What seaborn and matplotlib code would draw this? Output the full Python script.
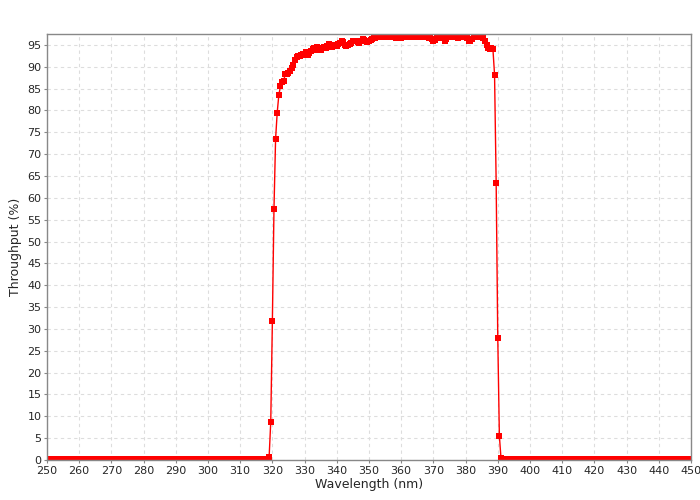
import matplotlib
matplotlib.use('Agg')
import matplotlib.pyplot as plt
import seaborn as sns
import numpy as np
import pandas as pd

# wavelength grid (nm), sampled every 0.5 nm
wavelength = np.arange(250, 450.5, 0.5)

blocked_low = [0.3] * 138          # 250.0 .. 318.5
passband = [
    0.8, 8.8, 31.7, 57.5, 73.5, 79.5, 83.5, 85.5, 86.5, 86.8,        # 319.0 - 323.5
    88.3, 88.3, 88.6, 89.0, 89.8, 90.5, 91.5, 92.3, 92.5, 92.4,      # 324.0 - 328.5
    92.6, 93.0, 92.8, 93.3, 92.6, 93.2, 93.5, 94.0, 94.3, 93.8,      # 329.0 - 333.5
    94.5, 94.0, 93.8, 94.3, 94.6, 94.4, 94.8, 95.2, 94.8, 94.6,      # 334.0 - 338.5
    94.7, 95.0, 94.8, 95.2, 95.5, 95.8, 95.6, 95.0, 94.8, 94.9,      # 339.0 - 343.5
    95.2, 95.5, 95.8, 95.9, 96.0, 95.7, 95.4, 95.8, 96.3, 96.2,      # 344.0 - 348.5
    95.8, 95.6, 95.9, 96.2, 96.4, 96.5, 96.6, 96.7, 96.8, 96.8,      # 349.0 - 353.5
    96.9, 96.8, 96.9, 97.0, 96.9, 96.8, 96.7, 96.9, 96.8, 96.6,      # 354.0 - 358.5
    96.7, 96.8, 96.6, 96.7, 96.8, 96.9, 96.8, 96.9, 97.0, 96.9,      # 359.0 - 363.5
    96.8, 96.9, 97.0, 97.0, 96.9, 96.8, 96.9, 96.8, 96.7, 96.6,      # 364.0 - 368.5
    96.7, 96.4, 96.0, 96.2, 96.7, 96.8, 96.6, 96.8, 96.5, 96.0,      # 369.0 - 373.5
    96.3, 96.8, 96.9, 96.7, 96.8, 96.9, 96.7, 96.6, 96.8, 96.9,      # 374.0 - 378.5
    96.7, 96.8, 96.9, 96.6, 96.0, 95.8, 96.4, 96.8, 96.9, 96.8,      # 379.0 - 383.5
    96.9, 96.8, 96.7, 96.6, 96.0, 95.0, 94.2, 94.0, 94.2, 94.0,      # 384.0 - 388.5
    88.2, 63.5, 28.0, 5.5, 0.4,                                      # 389.0 - 391.0
]
blocked_high = [0.3] * (len(wavelength) - len(blocked_low) - len(passband))

throughput = blocked_low + passband + blocked_high

df = pd.DataFrame({"Wavelength (nm)": wavelength, "Throughput (%)": throughput})

sns.set_theme(style="white")
plt.rcParams['font.family'] = ['DejaVu Sans']

fig = plt.figure(figsize=(7, 5), dpi=100)
ax = fig.add_axes([0.0671, 0.08, 0.92, 0.852])

sns.lineplot(data=df, x="Wavelength (nm)", y="Throughput (%)", ax=ax,
             color="#ff0000", linewidth=1.0, marker="s", markersize=5,
             markeredgewidth=0, markerfacecolor="#ff0000")

ax.set_xlim(250, 450)
ax.set_ylim(0, 97.5)
ax.set_xticks(np.arange(250, 451, 10))
ax.set_yticks(np.arange(0, 96, 5))
ax.grid(True, color="#dddddd", linestyle=(0, (3, 3)), linewidth=0.8)
ax.set_axisbelow(True)

for sp in ax.spines.values():
    sp.set_color("#888888")
    sp.set_linewidth(1.0)

ax.tick_params(axis="both", labelsize=8, length=2, width=0.8, color="#888888",
               pad=2, direction="out", bottom=True, left=True)
ax.set_xlabel("Wavelength (nm)", fontsize=9, labelpad=2)
ax.set_ylabel("Throughput (%)", fontsize=9, labelpad=4)

fig.savefig("out.png", dpi=100, facecolor="white")
